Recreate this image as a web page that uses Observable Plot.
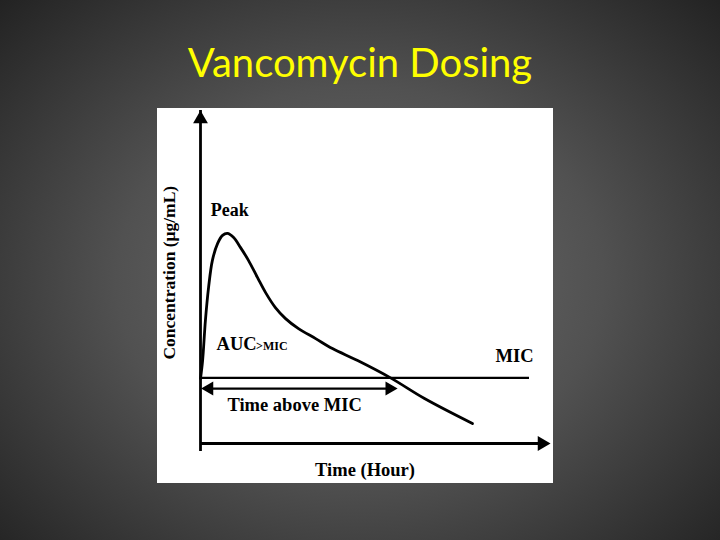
<!DOCTYPE html>
<html>
<head>
<meta charset="utf-8">
<script src="https://cdn.jsdelivr.net/npm/d3@7"></script>
<script src="https://cdn.jsdelivr.net/npm/@observablehq/plot@0.6"></script>
<style>
  html, body { margin: 0; padding: 0; }
  body {
    width: 720px; height: 540px; overflow: hidden; position: relative;
    background: radial-gradient(ellipse 75% 80% at 50% 52%, #6e6e6e 0%, #515151 45%, #1c1c1c 100%);
  }
  #title {
    position: absolute; left: 0; top: 39px; width: 720px; text-align: center;
    font-family: Lato, "Open Sans", sans-serif; font-size: 40px; line-height: 46px;
    color: #ffff00;
  }
  #chart { position: absolute; left: 157px; top: 108px; }
</style>
</head>
<body>
<div id="title">Vancomycin Dosing</div>
<div id="chart"></div>
<script>
// concentration curve (time, concentration)
const times = [0, 0.06, 0.14, 0.23, 0.34, 0.49, 0.63, 0.77, 0.94, 1.14, 1.37, 1.63, 1.86, 2.14, 2.43, 2.80, 3.29, 3.77, 4.49, 5.43, 6.40, 7.77]
const conc  = [1.95, 2.49, 3.69, 4.68, 5.50, 6.01, 6.25, 6.31, 6.19, 5.89, 5.50, 4.98, 4.53, 4.08, 3.75, 3.45, 3.15, 2.85, 2.49, 1.97, 1.35, 0.60]
const mic = 1.97
const micEnd = 9.4
const timeAbove = [0.02, 5.63]
const timeAboveLevel = 1.65
const axisMax = 10

const curve = times.map((t, i) => ({t, c: conc[i]}))
const serif = "'Liberation Serif', 'Times New Roman', serif"

let chart = Plot.plot({
  width: 396,
  height: 375,
  marginLeft: 43,
  marginRight: 3,
  marginTop: 2,
  marginBottom: 40,
  x: {domain: [0, axisMax], axis: null},
  y: {domain: [0, axisMax], axis: null},
  style: {background: 'white', fontFamily: serif, color: 'black'},
  marks: [
    // axes with filled heads
    Plot.ruleX([0], {y1: 0, y2: axisMax, insetTop: 8, stroke: 'black', strokeWidth: 2.8}),
    Plot.ruleY([0], {x1: 0, x2: axisMax, insetRight: 8, stroke: 'black', strokeWidth: 2.8}),
    Plot.dot([0], {x: 0, y: axisMax, symbol: 'triangle', r: 5.5, fill: 'black', stroke: 'none', dy: 8.5}),
    Plot.dot([0], {x: axisMax, y: 0, symbol: 'triangle', r: 5.5, fill: 'black', stroke: 'none', dx: -8.5, rotate: 90}),

    // MIC threshold
    Plot.ruleY([mic], {x1: 0, x2: micEnd, stroke: 'black', strokeWidth: 2.3}),

    // time above MIC double arrow
    Plot.ruleY([timeAboveLevel], {x1: timeAbove[0], x2: timeAbove[1], insetLeft: 8, insetRight: 8, stroke: 'black', strokeWidth: 2.3}),
    Plot.dot([0], {x: timeAbove[0], y: timeAboveLevel, symbol: 'triangle', r: 5.2, fill: 'black', stroke: 'none', dx: 8, rotate: -90}),
    Plot.dot([0], {x: timeAbove[1], y: timeAboveLevel, symbol: 'triangle', r: 5.2, fill: 'black', stroke: 'none', dx: -8, rotate: 90}),

    // concentration curve
    Plot.line(curve, {x: 't', y: 'c', curve: 'catmull-rom', stroke: 'black', strokeWidth: 2.8}),

    // labels
    Plot.text(['Peak'], {x: 0.29, y: 7.0, text: d => d, textAnchor: 'start', fontSize: 18, fontWeight: 'bold'}),
    Plot.text(['AUC'], {x: 0.46, y: 3.0, text: d => d, textAnchor: 'start', fontSize: 18.5, fontWeight: 'bold'}),
    Plot.text(['>MIC'], {x: 0.46, y: 3.0, text: d => d, textAnchor: 'start', fontSize: 12, fontWeight: 'bold', dx: 39.5, dy: 3}),
    Plot.text(['MIC'], {x: 8.43, y: 2.64, text: d => d, textAnchor: 'start', fontSize: 18.5, fontWeight: 'bold'}),
    Plot.text(['Time above MIC'], {x: 0.77, y: 1.14, text: d => d, textAnchor: 'start', fontSize: 18.5, fontWeight: 'bold'}),
    Plot.text(['Time (Hour)'], {x: 4.7, y: -0.81, text: d => d, fontSize: 18.5, fontWeight: 'bold'}),
    Plot.text(['Concentration (μg/mL)'], {x: -0.89, y: 5.13, text: d => d, rotate: -90, fontSize: 17.5, fontWeight: 'bold'}),
  ],
})
d3.select('#chart').append(() => chart)
</script>
</body>
</html>
